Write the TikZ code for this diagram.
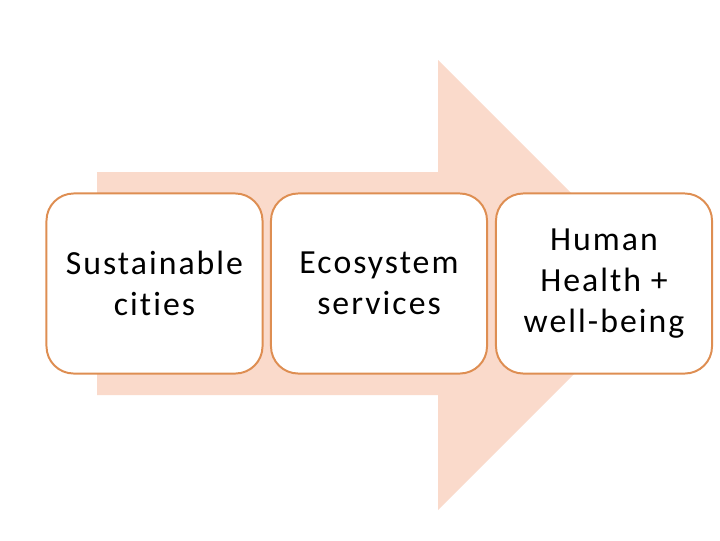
\documentclass[tikz,border=0pt]{standalone}
\usepackage{fontspec}
\setmainfont{Carlito}[LetterSpace=6, Ligatures=NoCommon]
\definecolor{arrowfill}{RGB}{250,218,203}
\definecolor{boxline}{RGB}{222,142,82}

\begin{document}
\begin{tikzpicture}[x=0.025cm, y=-0.025cm,
    stagebox/.style={draw=boxline, line width=1.4pt, fill=white, rounded corners=0.68cm,
      minimum width=5.4cm, minimum height=4.5cm, align=center, inner sep=0pt,
      font=\fontsize{24}{29}\selectfont}]
    \useasboundingbox (0,0) rectangle (720,540);
    % big background arrow
    \fill[arrowfill] (97,172) -- (438,172) -- (438,60) -- (663,285)
      -- (438,510) -- (438,395) -- (97,395) -- cycle;
    % the three stages
    \node[stagebox] (cities) at (154.5,283.5) {Sustainable\\cities};
    \node[stagebox] (services) at (379,283.5) {Ecosystem\\services};
    \node[stagebox] (health) at (604,283.5) {Human\\Health +\\well-being};
\end{tikzpicture}
\end{document}
